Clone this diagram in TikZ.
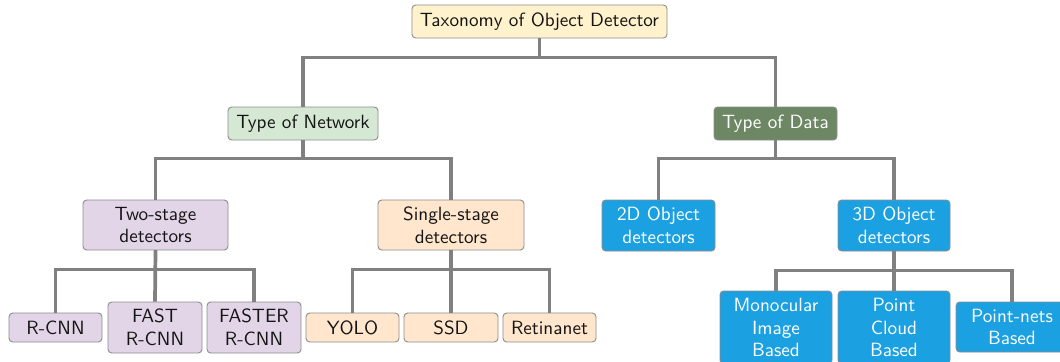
\documentclass[tikz,border=0pt]{standalone}
\usepackage{xcolor}
\definecolor{boxline}{HTML}{8C8C8C}
\definecolor{edgegray}{HTML}{808080}
\definecolor{rootfill}{HTML}{FFF2CC}
\definecolor{netfill}{HTML}{D5E8D4}
\definecolor{datafill}{HTML}{6D8764}
\definecolor{twofill}{HTML}{E1D5E7}
\definecolor{onefill}{HTML}{FFE6CC}
\definecolor{bluefill}{HTML}{1BA1E2}
\newcommand\pxu{0.5376pt}
\tikzset{
  box/.style={draw=boxline, line width=0.5pt, rounded corners=2pt, inner sep=0pt,
    align=center, font=\sffamily\fontsize{10.3}{12.2}\selectfont, text=black!92},
  sz/.style n args={2}{minimum width={#1*\pxu}, minimum height={#2*\pxu}},
  rootbox/.style={box, fill=rootfill},
  netbox/.style={box, fill=netfill},
  databox/.style={box, fill=datafill, text=white},
  twobox/.style={box, fill=twofill},
  onebox/.style={box, fill=onefill},
  bluebox/.style={box, fill=bluefill, text=white},
  edge/.style={draw=edgegray, line width=2pt}
}
\begin{document}
\begin{tikzpicture}[x=0.5376pt, y=-0.5376pt]
\useasboundingbox (0,0) rectangle (1060,361);
% top levels
\node[rootbox, sz={255}{33}] (root) at (539.5,21.5) {Taxonomy of Object Detector};
\node[netbox, sz={150}{33}] (net) at (303,123.5) {Type of Network};
\node[databox, sz={123}{33}] (data) at (775.5,123.5) {Type of Data};
% second level
\node[twobox, sz={145}{50}] (two) at (155.5,225) {Two-stage\\detectors};
\node[onebox, sz={146}{50}] (single) at (451,225) {Single-stage\\detectors};
\node[bluebox, sz={113}{51}] (d2) at (658.5,225.5) {2D Object\\detectors};
\node[bluebox, sz={112}{51}] (d3) at (894,225.5) {3D Object\\detectors};
% leaves
\node[twobox, sz={93}{29}] (rcnn) at (55.5,327.5) {R-CNN};
\node[twobox, sz={94}{51}] (fast) at (155,327.5) {FAST\\R-CNN};
\node[twobox, sz={94}{51}] (faster) at (254,327.5) {FASTER\\R-CNN};
\node[onebox, sz={93}{29}] (yolo) at (352.5,327.5) {YOLO};
\node[onebox, sz={94}{29}] (ssd) at (451,327.5) {SSD};
\node[onebox, sz={93}{29}] (retina) at (549.5,327.5) {Retinanet};
\node[bluebox, sz={112}{73}] (mono) at (776,327.5) {Monocular\\Image\\Based};
\node[bluebox, sz={112}{73}] (cloud) at (894,327.5) {Point\\Cloud\\Based};
\node[bluebox, sz={112}{50}] (pnets) at (1012,327) {Point-nets\\Based};
% connectors
\draw[edge] (root.south) -- ++(0,19) -| (net.north);
\draw[edge] (root.south) -- ++(0,19) -| (data.north);
\draw[edge] (net.south) -- ++(0,18) -| (two.north);
\draw[edge] (net.south) -- ++(0,18) -| (single.north);
\draw[edge] (data.south) -- ++(0,18) -| (d2.north);
\draw[edge] (data.south) -- ++(0,18) -| (d3.north);
\draw[edge] (two.south) -- ++(0,19) -| (rcnn.north);
\draw[edge] (two.south) -- (fast.north);
\draw[edge] (two.south) -- ++(0,19) -| (faster.north);
\draw[edge] (single.south) -- ++(0,19) -| (yolo.north);
\draw[edge] (single.south) -- (ssd.north);
\draw[edge] (single.south) -- ++(0,19) -| (retina.north);
\draw[edge] (d3.south) -- ++(0,19) -| (mono.north);
\draw[edge] (d3.south) -- (cloud.north);
\draw[edge] (d3.south) -- ++(0,19) -| (pnets.north);
\end{tikzpicture}
\end{document}
